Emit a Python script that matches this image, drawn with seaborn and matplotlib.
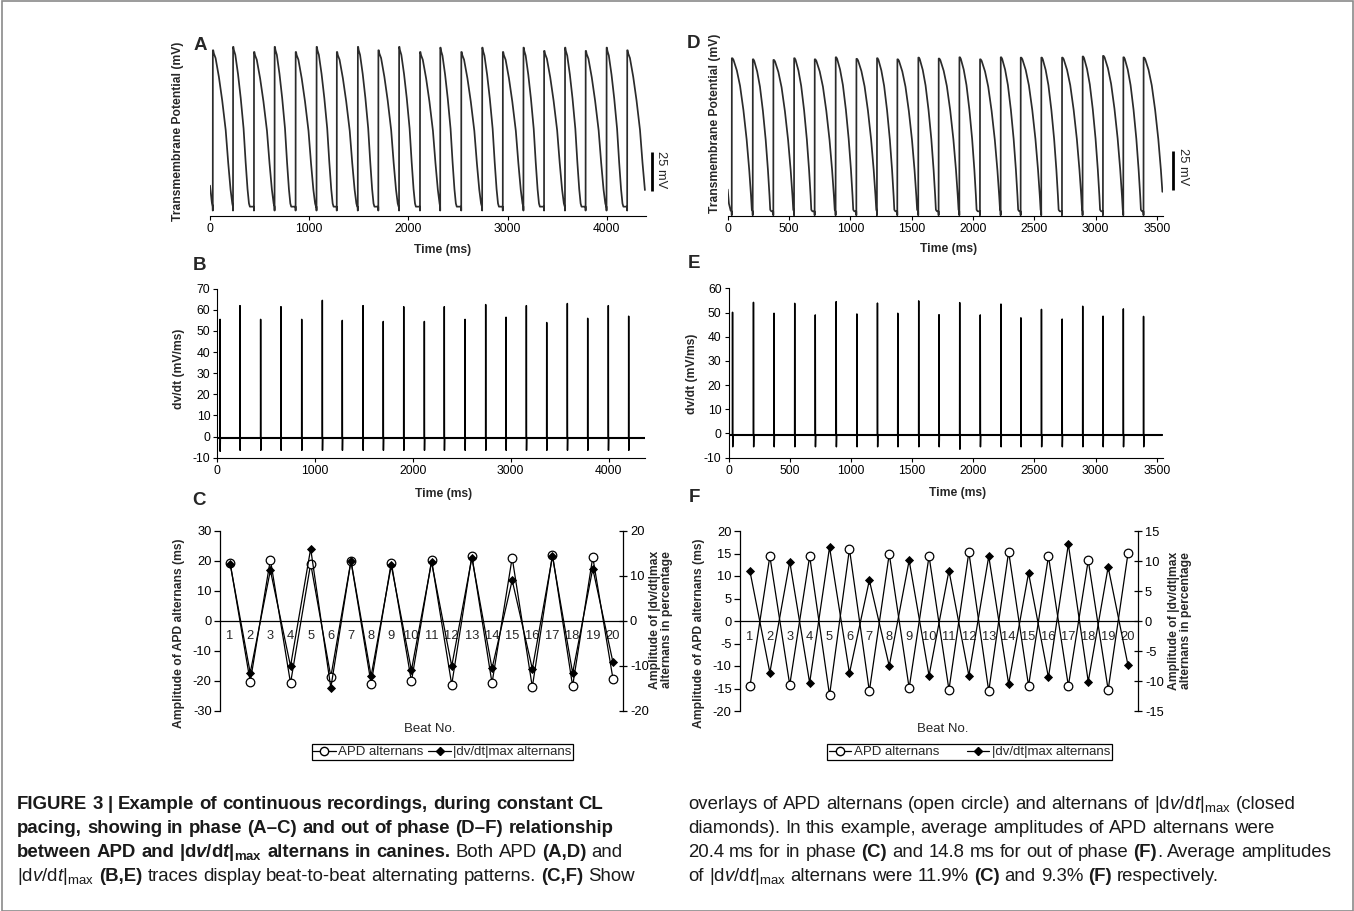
import numpy as np
import matplotlib
matplotlib.use("Agg")
import matplotlib.pyplot as plt
import seaborn as sns
from matplotlib.lines import Line2D
from matplotlib.patches import Rectangle
from matplotlib import font_manager, transforms

# ---------------- data ----------------
# In-phase recording (panels A, B): beat onset times (ms)
onset_AB = [28, 232, 443, 651, 863, 1074, 1278, 1490, 1697, 1906, 2117,
            2321, 2533, 2744, 2952, 3160, 3368, 3579, 3787, 3998, 4206]
ap_peak_A = [15.4, 17.6, 14.3, 17.6, 14.3, 17.6, 14.3, 17.6, 15.4, 17.6, 14.3,
             17.1, 14.3, 17.1, 14.3, 17.1, 15.0, 17.1, 15.0, 17.1, 15.4]
apd_A = [196, 160, 198, 158, 196, 162, 197, 158, 195, 160, 197,
         157, 199, 159, 198, 156, 199, 157, 198, 160, 195]
dvdt_peak_B = [55.5, 62, 55.5, 61.5, 55.5, 64.5, 55, 62, 54.5, 61.5, 54.5,
               61.5, 55.5, 62.5, 56.5, 62, 54, 63, 56, 62, 57]
dvdt_trough_B = [-7, -6.5, -6.5, -6.5, -6.5, -6.5, -6.5, -6.5, -6.5, -6.5, -6.5,
                 -6.5, -6.5, -6.5, -6.5, -6.5, -6.5, -6.5, -6.5, -6.5, -6.5]

# Out-of-phase recording (panels D, E)
onset_DE = [33, 204, 372, 541, 709, 880, 1049, 1217, 1383, 1554, 1720,
            1889, 2057, 2226, 2389, 2557, 2726, 2894, 3060, 3226, 3391]
ap_peak_D = [13.3, 12.6, 12.2, 13.3, 12.6, 13.9, 12.9, 13.3, 12.6, 13.7, 13.1,
             13.9, 12.6, 13.9, 13.7, 13.7, 13.7, 14.4, 14.8, 13.9, 13.7]
apd_D = [163, 142, 162, 140, 163, 143, 162, 141, 161, 143, 162,
         140, 163, 142, 162, 141, 163, 142, 161, 143, 162]
dvdt_peak_E = [50.1, 54.2, 49.7, 53.8, 49.0, 54.5, 49.4, 53.9, 49.7, 54.8, 49.1,
               54.1, 49.0, 53.5, 47.8, 51.3, 47.3, 52.6, 48.5, 51.5, 48.4]
dvdt_trough_E = [-5.5, -5.5, -5.5, -5.5, -5.5, -5.5, -5.5, -5.5, -5.5, -5.5, -5.5,
                 -6.5, -5.5, -5.5, -5.5, -5.5, -5.5, -5.5, -5.5, -5.5, -5.5]

# Action potential shape (fraction of APD, fraction of amplitude)
shape_t_A = [0, 0.02, 0.05, 0.14, 0.31, 0.48, 0.66, 0.79, 0.91, 0.97, 1.0]
shape_v_A = [1.0, 1.0, 0.98, 0.95, 0.83, 0.68, 0.49, 0.28, 0.11, 0.05, 0.02]
shape_t_D = [0, 0.03, 0.08, 0.25, 0.41, 0.58, 0.74, 0.87, 0.96, 1.0]
shape_v_D = [1.0, 1.0, 0.99, 0.92, 0.82, 0.66, 0.47, 0.27, 0.10, 0.01]
rest_mV = -85
init_t_A, init_v_A = [0, 8, 18], [-71.5, -76, -82]
init_t_D, init_v_D = [0, 10, 24], [-71, -80, -84.5]
end_A, end_D = 4385, 3545
end_B, end_E = 4370, 3545
baseline_dvdt = -0.6

# Panels C and F: beat-to-beat alternans amplitudes
beats = list(range(1, 21))
apd_alt_C = [19.4, -20.4, 20.4, -20.8, 19.0, -18.7, 19.9, -21.0, 19.4, -20.2,
             20.1, -21.3, 21.6, -20.8, 21.0, -22.1, 22.0, -21.8, 21.2, -19.3]
dvdt_alt_C = [12.7, -11.6, 11.2, -10.1, 16.0, -14.9, 13.3, -12.3, 12.3, -11.0,
              13.0, -10.1, 14.0, -10.6, 9.0, -10.7, 14.3, -11.6, 11.6, -9.2]
apd_alt_F = [-14.5, 14.4, -14.2, 14.4, -16.5, 16.0, -15.6, 14.9, -14.9, 14.4,
             -15.3, 15.3, -15.6, 15.4, -14.4, 14.4, -14.4, 13.5, -15.3, 15.1]
dvdt_alt_F = [8.3, -8.6, 9.9, -10.3, 12.3, -8.7, 6.8, -7.5, 10.1, -9.1,
              8.4, -9.1, 10.8, -10.5, 8.0, -9.4, 12.8, -10.1, 9.0, -7.4]

scale_bar_mV = 25

# ---------------- style ----------------
sns.set_theme(style="ticks")
plt.rcParams["font.family"] = ["Liberation Sans", "DejaVu Sans"]
plt.rcParams["axes.unicode_minus"] = False
names = {f.name for f in font_manager.fontManager.ttflist}
cap_family = next((c for c in ["Liberation Sans Narrow", "Liberation Sans"] if c in names), "DejaVu Sans")
plt.rcParams["mathtext.fontset"] = "custom"
plt.rcParams["mathtext.rm"] = cap_family
plt.rcParams["mathtext.it"] = cap_family + ":italic"
plt.rcParams["mathtext.bf"] = cap_family + ":bold"
has_bfit = True
try:
    plt.rcParams["mathtext.bfit"] = cap_family + ":italic:bold"
except Exception:
    has_bfit = False

W, H = 1354, 911
fig = plt.figure(figsize=(W / 100, H / 100), dpi=100)
fig.patch.set_facecolor("white")
TICK = 8.7
LAB = 8.7


def axes_px(l, t, r, b):
    return fig.add_axes([l / W, 1 - b / H, (r - l) / W, (b - t) / H])


def ftext(x, y, s, **kw):
    return fig.text(x / W, 1 - y / H, s, **kw)


def build_ap(onsets, peaks, apds, shape_t, shape_v, init_t, init_v, t_end):
    t, v = list(init_t), list(init_v)
    for i, (on, pk, apd) in enumerate(zip(onsets, peaks, apds)):
        t += [on - 0.5, on, on + 0.8]
        v += [rest_mV, rest_mV - 2.5, pk]
        for st, sv in zip(shape_t[1:], shape_v[1:]):
            t.append(on + 0.8 + st * apd)
            v.append(rest_mV + sv * (pk - rest_mV))
        nxt = onsets[i + 1] if i + 1 < len(onsets) else t_end + 50
        if on + apd + 10 < nxt - 1:
            t.append(on + apd + 10)
            v.append(rest_mV)
    t, v = np.array(t), np.array(v)
    keep = t <= t_end
    t_out = np.append(t[keep], t_end)
    v_out = np.append(v[keep], np.interp(t_end, t, v))
    return t_out, v_out


def build_dvdt(onsets, peaks, troughs, t_end):
    t, v = [0], [baseline_dvdt]
    for on, pk, tr in zip(onsets, peaks, troughs):
        t += [on - 1, on, on + 1.5, on + 3.5]
        v += [baseline_dvdt, pk, tr, baseline_dvdt]
    t.append(t_end)
    v.append(baseline_dvdt)
    return np.array(t), np.array(v)


def style_trace_axes(ax, xlim, xticks):
    ax.set_xlim(*xlim)
    ax.set_xticks(xticks)
    for s in ["top", "right"]:
        ax.spines[s].set_visible(False)
    ax.tick_params(axis="both", labelsize=TICK, length=3, width=0.8, pad=2,
                   colors="black", direction="out")
    ax.set_xlabel("")
    ax.set_ylabel("")
    ax.set_facecolor("none")
    for s in ax.spines.values():
        s.set_color("black")
        s.set_linewidth(0.8)


# ---------------- panel A ----------------
axA = axes_px(210, 40, 646, 216)
tA, vA = build_ap(onset_AB, ap_peak_A, apd_A, shape_t_A, shape_v_A, init_t_A, init_v_A, end_A)
sns.lineplot(x=tA, y=vA, ax=axA, estimator=None, sort=False, color="#2b2b2b", lw=1.25)
style_trace_axes(axA, (0, 4396), [0, 1000, 2000, 3000, 4000])
axA.spines["left"].set_visible(False)
axA.set_yticks([])
axA.set_ylim(-91, 22)

# ---------------- panel D ----------------
axD = axes_px(727.7, 40, 1163, 216)
tD, vD = build_ap(onset_DE, ap_peak_D, apd_D, shape_t_D, shape_v_D, init_t_D, init_v_D, end_D)
sns.lineplot(x=tD, y=vD, ax=axD, estimator=None, sort=False, color="#2b2b2b", lw=1.25)
style_trace_axes(axD, (0, 3550), [0, 500, 1000, 1500, 2000, 2500, 3000, 3500])
axD.spines["left"].set_visible(False)
axD.set_yticks([])
axD.set_ylim(-88, 25)

# scale bars
for ax, xf, y0 in [(axA, 1.0138, -75), (axD, 1.022, -71.5)]:
    tr = transforms.blended_transform_factory(ax.transAxes, ax.transData)
    ax.plot([xf, xf], [y0, y0 + scale_bar_mV], transform=tr, color="black",
            lw=2.0, clip_on=False, solid_capstyle="butt")
ftext(661, 170, f"{scale_bar_mV} mV", rotation=270, ha="center", va="center", fontsize=9.3)
ftext(1183, 167, f"{scale_bar_mV} mV", rotation=270, ha="center", va="center", fontsize=9.3)

# ---------------- panel B ----------------
axB = axes_px(217.3, 288.7, 645, 457.7)
tB, vB = build_dvdt(onset_AB, dvdt_peak_B, dvdt_trough_B, end_B)
sns.lineplot(x=tB, y=vB, ax=axB, estimator=None, sort=False, color="black", lw=1.05)
sns.lineplot(x=[0, end_B], y=[baseline_dvdt, baseline_dvdt], ax=axB, color="black", lw=1.5)
style_trace_axes(axB, (0, 4373), [0, 1000, 2000, 3000, 4000])
axB.set_ylim(-10, 70)
axB.set_yticks(range(-10, 71, 10))

# ---------------- panel E ----------------
axE = axes_px(728.5, 288.3, 1163, 457.7)
tE, vE = build_dvdt(onset_DE, dvdt_peak_E, dvdt_trough_E, end_E)
sns.lineplot(x=tE, y=vE, ax=axE, estimator=None, sort=False, color="black", lw=1.05)
sns.lineplot(x=[0, end_E], y=[baseline_dvdt, baseline_dvdt], ax=axE, color="black", lw=1.5)
style_trace_axes(axE, (0, 3550), [0, 500, 1000, 1500, 2000, 2500, 3000, 3500])
axE.set_ylim(-10, 60)
axE.set_yticks(range(-10, 61, 10))


# ---------------- panels C and F ----------------
def alternans_panel(box, apd_vals, dv_vals, ylim1, yt1, ylim2, yt2, label_y):
    ax = axes_px(*box)
    ax2 = ax.twinx()
    sns.lineplot(x=beats, y=apd_vals, ax=ax, color="black", lw=0.9, marker="o",
                 markersize=6.2, markerfacecolor="white", markeredgecolor="black",
                 markeredgewidth=0.9)
    sns.lineplot(x=beats, y=dv_vals, ax=ax2, color="black", lw=0.9, marker="D",
                 markersize=4.3, markerfacecolor="black", markeredgecolor="black",
                 markeredgewidth=0.6)
    ax.set_xlim(0.5, 20.5)
    ax.set_ylim(*ylim1)
    ax.set_yticks(yt1)
    ax2.set_ylim(*ylim2)
    ax2.set_yticks(yt2)
    ax.axhline(0, color="black", lw=0.9)
    for a in (ax, ax2):
        for s in ["top", "bottom"]:
            a.spines[s].set_visible(False)
        a.set_xlabel("")
        a.set_ylabel("")
        a.set_facecolor("none")
        for s in a.spines.values():
            s.set_color("black")
            s.set_linewidth(0.9)
    ax.spines["right"].set_visible(False)
    ax2.spines["left"].set_visible(False)
    ax.set_xticks([])
    ax.tick_params(axis="y", labelsize=TICK + 0.6, length=4, width=0.9, pad=2,
                   direction="out", colors="black")
    ax2.tick_params(axis="y", labelsize=TICK + 0.6, length=6, width=0.9, pad=2,
                    direction="inout", colors="black")
    for b in beats:
        ax.text(b, label_y, str(b), ha="center", va="top", fontsize=9.3)
    return ax, ax2


axC, axC2 = alternans_panel((220, 530.7, 623, 710.7), apd_alt_C, dvdt_alt_C,
                            (-30, 30), range(-30, 31, 10), (-20, 20), range(-20, 21, 10), -3.2)
axF, axF2 = alternans_panel((740, 531, 1138, 711), apd_alt_F, dvdt_alt_F,
                            (-20, 20), range(-20, 21, 5), (-15, 15), range(-15, 16, 5), -2.2)

# legends
h_apd = Line2D([], [], color="black", lw=0.9, marker="o", markersize=6,
               markerfacecolor="white", markeredgecolor="black")
h_dv = Line2D([], [], color="black", lw=0.9, marker="D", markersize=4.2,
              markerfacecolor="black", markeredgecolor="black")
for cx, cs in [(442.5, 0.35), (969.5, 2.1)]:
    lg = fig.legend([h_apd, h_dv], ["APD alternans", "|dv/dt|max alternans"],
                    loc="center", bbox_to_anchor=(cx / W, 1 - 752 / H), ncol=2,
                    frameon=True, fancybox=False, edgecolor="black", framealpha=1,
                    fontsize=9.5, handlelength=1.7, handletextpad=0.2,
                    columnspacing=cs, borderpad=0.12, borderaxespad=0)
    lg.get_frame().set_linewidth(0.9)

# ---------------- axis labels & panel letters ----------------
bold = dict(fontsize=LAB, fontweight="bold", ha="center", va="center")
ftext(178, 131, "Transmembrane Potential (mV)", rotation=90, **bold)
ftext(715, 123, "Transmembrane Potential (mV)", rotation=90, **bold)
ftext(443, 250, "Time (ms)", **bold)
ftext(949, 249, "Time (ms)", **bold)
ftext(179, 369, "dv/dt (mV/ms)", rotation=90, **bold)
ftext(692, 374, "dv/dt (mV/ms)", rotation=90, **bold)
ftext(444, 494, "Time (ms)", **bold)
ftext(958, 493, "Time (ms)", **bold)
ftext(179, 633, "Amplitude of APD alternans (ms)", rotation=90, **bold)
ftext(699, 633, "Amplitude of APD alternans (ms)", rotation=90, **bold)
ftext(661, 620, "Amplitude of |dv/dt|max\nalternans in percentage", rotation=90,
      linespacing=1.0, **bold)
ftext(1180, 621, "Amplitude of |dv/dt|max\nalternans in percentage", rotation=90,
      linespacing=1.0, **bold)
ftext(430, 729, "Beat No.", fontsize=9.5, ha="center", va="center")
ftext(943, 729, "Beat No.", fontsize=9.5, ha="center", va="center")

let = dict(fontsize=13.5, fontweight="bold", ha="center", va="center")
for s, x, y in [("A", 200, 45), ("B", 200, 265), ("C", 199, 500),
                ("D", 694, 43), ("E", 694, 264), ("F", 694, 498)]:
    ftext(x, y, s, **let)

# ---------------- caption ----------------
renderer = fig.canvas.get_renderer()
CAP = 13.45


def to_math(tok, is_bold):
    if tok == "|dv/dt|max":
        if is_bold:
            it = r"\mathbfit" if has_bfit else r"\mathbf"
            return r"|d$" + it + r"{v}$/d$" + it + r"{t}$|$_{\mathbf{max}}$"
        return r"|d$\mathit{v}$/d$\mathit{t}$|$_{\mathrm{max}}$"
    return tok


def width_of(s, is_bold):
    t = fig.text(0, 0, s, fontsize=CAP, family=cap_family,
                 fontweight="bold" if is_bold else "normal")
    w = t.get_window_extent(renderer).width
    t.remove()
    return w


space_w = {b: width_of("a a", b) - width_of("aa", b) for b in (True, False)}


def draw_line(x0, y0, runs):
    x = x0
    for text, is_bold in runs:
        parts = text.split(" ")
        for j, p in enumerate(parts):
            if j > 0:
                x += space_w[is_bold]
            if p:
                t = ftext(x, y0, to_math(p, is_bold), fontsize=CAP, family=cap_family,
                          fontweight="bold" if is_bold else "normal",
                          ha="left", va="baseline", color="#1a1a1a")
                x += t.get_window_extent(renderer).width


left_lines = [
    [("FIGURE 3 | Example of continuous recordings, during constant CL", True)],
    [("pacing, showing in phase (A\u2013C) and out of phase (D\u2013F) relationship", True)],
    [("between APD and |dv/dt|max alternans in canines.", True), (" Both APD ", False),
     ("(A,D)", True), (" and", False)],
    [("|dv/dt|max ", False), ("(B,E)", True),
     (" traces display beat-to-beat alternating patterns. ", False), ("(C,F)", True),
     (" Show", False)],
]
right_lines = [
    [("overlays of APD alternans (open circle) and alternans of |dv/dt|max (closed", False)],
    [("diamonds). In this example, average amplitudes of APD alternans were", False)],
    [("20.4 ms for in phase ", False), ("(C)", True), (" and 14.8 ms for out of phase ", False),
     ("(F)", True), (". Average amplitudes", False)],
    [("of |dv/dt|max alternans were 11.9% ", False), ("(C)", True), (" and 9.3% ", False),
     ("(F)", True), (" respectively.", False)],
]
for i, runs in enumerate(left_lines):
    draw_line(17, 809 + 24 * i, runs)
for i, runs in enumerate(right_lines):
    draw_line(688, 809 + 24 * i, runs)

# figure frame
fig.patches.append(Rectangle((1.5 / W, 0.5 / H), (W - 3) / W, (H - 1.5) / H,
                             transform=fig.transFigure, fill=False,
                             edgecolor="#8a8a8a", lw=1.2))

fig.savefig("out.png", dpi=100, facecolor="white")
